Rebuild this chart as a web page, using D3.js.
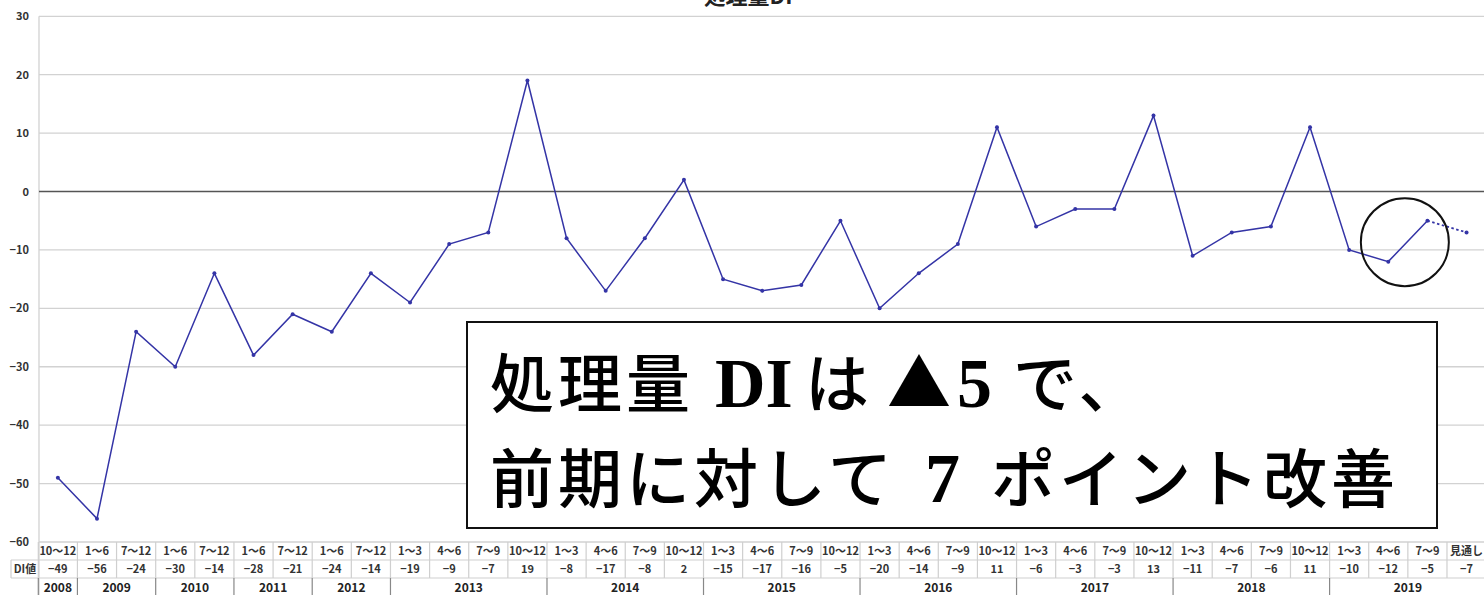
<!DOCTYPE html>
<html><head><meta charset="utf-8">
<script src="https://cdn.jsdelivr.net/npm/d3@7"></script>
<style>
html,body{margin:0;padding:0;background:#fff;overflow:hidden;}
svg{display:block;}
</style></head>
<body>
<svg id="chart" width="1484" height="595"></svg>
<script>
const title = "処理量DI";
const periods = ["10〜12","1〜6","7〜12","1〜6","7〜12","1〜6","7〜12","1〜6","7〜12",
  "1〜3","4〜6","7〜9","10〜12","1〜3","4〜6","7〜9","10〜12","1〜3","4〜6","7〜9","10〜12",
  "1〜3","4〜6","7〜9","10〜12","1〜3","4〜6","7〜9","10〜12","1〜3","4〜6","7〜9","10〜12",
  "1〜3","4〜6","7〜9","見通し"];
const diValues = [-49,-56,-24,-30,-14,-28,-21,-24,-14,
  -19,-9,-7,19,-8,-17,-8,2,-15,-17,-16,-5,
  -20,-14,-9,11,-6,-3,-3,13,-11,-7,-6,11,
  -10,-12,-5,-7];
const years = ["2008","2009","2010","2011","2012","2013","2014","2015","2016","2017","2018","2019"];
const yearSpans = [1,2,2,2,2,4,4,4,4,4,4,4];
const yTicks = [30,20,10,0,-10,-20,-30,-40,-50,-60];
const rowLabel = "DI値";
const noteLine1 = ["処理量","DI","は","▲","5","で、"];
const noteLine2 = ["前期に対して","7","ポイント改善"];

const svg = d3.select("#chart");
const idx = d3.range(periods.length);
const x = d3.scaleBand().domain(idx).range([38.3, 38.3 + 39.13*periods.length]);
const y = d3.scaleLinear().domain([-60, 30]).range([542, 16.3]);
const cx = i => x(i) + x.bandwidth()/2;
const sans = "'Noto Sans CJK JP','DejaVu Sans',sans-serif";

// title (clipped at top, as in the reference)
svg.append("text").attr("x", 748).attr("y", 4).attr("text-anchor","middle")
  .attr("font-family", sans).attr("font-weight","bold").attr("font-size",22).attr("fill","#222").text(title);

// grid lines
svg.append("g").selectAll("line").data(yTicks.filter(d=>d!==0)).join("line")
  .attr("x1", 39).attr("x2", 1484).attr("y1", d=>y(d)).attr("y2", d=>y(d))
  .attr("stroke","#d2d2d2").attr("stroke-width",1.3);
svg.append("line").attr("x1",39).attr("x2",39).attr("y1",y(30)).attr("y2",595)
  .attr("stroke","#d2d2d2").attr("stroke-width",1.3);
svg.append("line").attr("x1",39).attr("x2",1484).attr("y1",y(0)).attr("y2",y(0))
  .attr("stroke","#555").attr("stroke-width",1.6);

// y tick labels
svg.append("g").selectAll("text").data(yTicks).join("text")
  .attr("x", 29).attr("y", d=>y(d)+4).attr("text-anchor","end")
  .attr("font-family", sans).attr("font-weight","bold").attr("font-size",11).attr("fill","#333")
  .text(d=> d<0 ? "−"+Math.abs(d) : d);

// table
const r1 = 542, r2 = 560, r3 = 578, r4 = 595;
const tbl = svg.append("g");
[r2, r3].forEach(yy=>{
  tbl.append("line").attr("x1",11).attr("x2",1484).attr("y1",yy).attr("y2",yy)
    .attr("stroke","#cfcfcf").attr("stroke-width",1.2);
});
tbl.selectAll("line.col").data(d3.range(periods.length+1)).join("line").attr("class","col")
  .attr("x1", i=>x.range()[0] + i*x.step()).attr("x2", i=>x.range()[0] + i*x.step())
  .attr("y1", r1).attr("y2", r3).attr("stroke","#cfcfcf").attr("stroke-width",1.2);
tbl.append("line").attr("x1",11).attr("x2",11).attr("y1",r2).attr("y2",r3).attr("stroke","#cfcfcf").attr("stroke-width",1.2);
tbl.append("text").attr("x",25).attr("y",r2+13).attr("text-anchor","middle")
  .attr("font-family",sans).attr("font-weight","bold").attr("font-size",11).attr("fill","#333").text(rowLabel);
tbl.selectAll("text.p").data(periods).join("text").attr("class","p")
  .attr("x",(d,i)=>cx(i)).attr("y", r1+13).attr("text-anchor","middle")
  .attr("font-family",sans).attr("font-weight","bold").attr("font-size",11).attr("fill","#333").text(d=>d);
tbl.selectAll("text.v").data(diValues).join("text").attr("class","v")
  .attr("x",(d,i)=>cx(i)).attr("y", r2+13).attr("text-anchor","middle")
  .attr("font-family",sans).attr("font-weight","bold").attr("font-size",11).attr("fill","#333")
  .text(d=> d<0 ? "−"+Math.abs(d) : d);
let start = 0;
const yearCells = years.map((yr,k)=>{ const c={yr, s:start, e:start+yearSpans[k]}; start+=yearSpans[k]; return c; });
tbl.selectAll("line.ys").data([0].concat(yearCells.map(c=>c.e))).join("line").attr("class","ys")
  .attr("x1", i=>x.range()[0]+i*x.step()).attr("x2", i=>x.range()[0]+i*x.step())
  .attr("y1", r3).attr("y2", r4).attr("stroke","#888").attr("stroke-width",1.2);
tbl.selectAll("text.y").data(yearCells).join("text").attr("class","y")
  .attr("x", c=> x.range()[0] + (c.s+c.e)/2*x.step()).attr("y", r3+14).attr("text-anchor","middle")
  .attr("font-family",sans).attr("font-weight","bold").attr("font-size",12).attr("fill","#222").text(c=>c.yr);

// line
const lineColor = "#3434a6";
const line = d3.line().x(d=>cx(d.i)).y(d=>y(d.v));
const pts = diValues.map((v,i)=>({i,v}));
const last = pts.length-1;
svg.append("path").datum(pts.slice(0,last)).attr("d",line).attr("fill","none")
  .attr("stroke",lineColor).attr("stroke-width",1.5);
svg.append("path").datum(pts.slice(last-1)).attr("d",line).attr("fill","none")
  .attr("stroke",lineColor).attr("stroke-width",1.8).attr("stroke-dasharray","2.5,2.5");
svg.append("g").selectAll("circle").data(pts).join("circle")
  .attr("cx",d=>cx(d.i)).attr("cy",d=>y(d.v)).attr("r",2).attr("fill",lineColor);

// annotation circle
const ca = pts[last-2], cb = pts[last-1];
svg.append("circle").attr("cx",(cx(ca.i)+cx(cb.i))/2 - 3).attr("cy", y((ca.v+cb.v)/2)+1).attr("r",44)
  .attr("fill","none").attr("stroke","#111").attr("stroke-width",2);

// annotation box
svg.append("rect").attr("x",467).attr("y",322).attr("width",970).attr("height",206)
  .attr("fill","#fff").attr("stroke","#111").attr("stroke-width",2);
const jp = "'Noto Sans CJK JP',sans-serif";
const lat = "'Liberation Serif','DejaVu Serif',serif";
const isLat = s => /[A-Za-z0-9]/.test(s);
function seg(parent, str, xx, size){
  parent.append("tspan").attr("x", xx)
    .attr("font-family", isLat(str) ? lat : jp)
    .attr("font-weight", isLat(str) ? "bold" : "500")
    .attr("font-size", size)
    .attr("letter-spacing", isLat(str) ? 0 : 4)
    .text(str);
}
const t1 = svg.append("text").attr("y",407).attr("fill","#000");
const pos1 = [490,715,805,887,957,1013];
noteLine1.forEach((s,k)=> seg(t1, s, pos1[k], s==="▲" ? 64 : (isLat(s) ? 70 : 64)));
const t2 = svg.append("text").attr("y",502).attr("fill","#000");
const pos2 = [490,925,991];
noteLine2.forEach((s,k)=> seg(t2, s, pos2[k], isLat(s) ? 70 : 64));
</script>
</body></html>
